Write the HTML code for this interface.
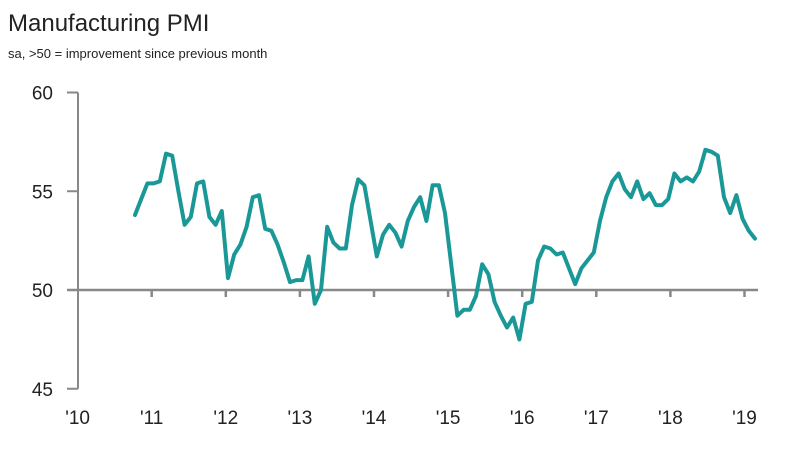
<!DOCTYPE html>
<html><head><meta charset="utf-8"><style>
body{margin:0;background:#fff;font-family:"Liberation Sans",sans-serif}
svg{display:block}
</style></head><body>
<svg id="chart" width="790" height="451">
<text x="8" y="31" font-size="24" fill="#222">Manufacturing PMI</text>
<text x="8" y="58" font-size="13" fill="#222">sa, &gt;50 = improvement since previous month</text>
<g id="axes"></g>
<g id="series"></g>
</svg>
<script>
const yTicks = [45, 50, 55, 60];
const yearLabels = ["'10","'11","'12","'13","'14","'15","'16","'17","'18","'19"];
const startMonthIndex = -2; // Nov 2010 relative to Jan 2011 ... first point
const pmiValues = [53.8,54.6,55.4,55.4,55.5,56.9,56.8,55.0,53.3,53.7,55.4,55.5,53.7,53.3,54.0,50.6,51.8,52.3,53.2,54.7,54.8,53.1,53.0,52.3,51.4,50.4,50.5,50.5,51.7,49.3,50.0,53.2,52.4,52.1,52.1,54.3,55.6,55.3,53.5,51.7,52.8,53.3,52.9,52.2,53.5,54.2,54.7,53.5,55.3,55.3,53.9,51.3,48.7,49.0,49.0,49.7,51.3,50.8,49.4,48.7,48.1,48.6,47.5,49.3,49.4,51.5,52.2,52.1,51.8,51.9,51.1,50.3,51.1,51.5,51.9,53.5,54.7,55.5,55.9,55.1,54.7,55.5,54.6,54.9,54.3,54.3,54.6,55.9,55.5,55.7,55.5,56.0,57.1,57.0,56.8,54.7,53.9,54.8,53.6,53.0,52.6];

const NS = "http://www.w3.org/2000/svg";
const y = v => 290 - (v - 50) * 19.75;
const yearX = k => 77.6 + 74.1 * k;          // k=0 -> 2010 Jan
const monthX = i => 135 + 6.2 * i;
const axes = document.getElementById('axes');
const series = document.getElementById('series');
function mk(tag, attrs, parent){const e=document.createElementNS(NS,tag);for(const k in attrs)e.setAttribute(k,attrs[k]);parent.appendChild(e);return e;}

let yl = mk('line',{x1:78,x2:78,y1:y(60),y2:y(45),stroke:'#888','stroke-width':2},axes);


yTicks.forEach(t=>{
  const tk = mk('line',{x1:67,x2:78,y1:y(t),y2:y(t),stroke:'#888','stroke-width':2},axes);
  
  
  const tx = mk('text',{x:53,y:y(t)+7,'font-size':19,'text-anchor':'end',fill:'#222'},axes);
  tx.textContent = t;
  
  
});
let xl = mk('line',{x1:67,x2:758,y1:y(50),y2:y(50),stroke:'#888','stroke-width':2.5},axes);


yearLabels.forEach((lab,k)=>{
  if(k>0){
    const tk = mk('line',{x1:yearX(k),x2:yearX(k),y1:y(50),y2:y(50)+7,stroke:'#888','stroke-width':2.5},axes);
    
    
  }
  const tx = mk('text',{x:yearX(k),y:424,'font-size':19,'text-anchor':'middle',fill:'#222'},axes);
  tx.textContent = lab;
  
  
});
const pts = pmiValues.map((v,i)=>monthX(i).toFixed(1)+','+y(v).toFixed(1)).join(' ');
const pl = mk('polyline',{points:pts,fill:'none',stroke:'#1a9898','stroke-width':4,'stroke-linejoin':'round','stroke-linecap':'round'},series);


</script>
</body></html>
